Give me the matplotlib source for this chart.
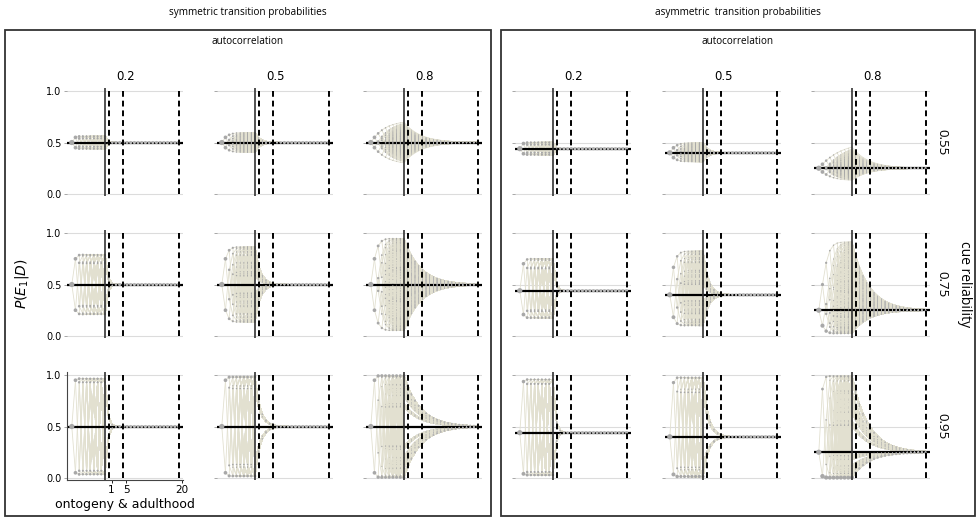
import numpy as np
import matplotlib
matplotlib.use("Agg")
import matplotlib.pyplot as plt
from matplotlib.collections import LineCollection
from matplotlib.patches import Rectangle

# ---- parameters shown on the figure ----
autocorrelations = [0.2, 0.5, 0.8]
cue_reliabilities = [0.55, 0.75, 0.95]
panel_titles = ["symmetric transition probabilities", "asymmetric  transition probabilities"]
# stationary probability of E1 for each autocorrelation level
stationary_sym = [0.5, 0.5, 0.5]
stationary_asym = [0.44, 0.40, 0.25]
n_cues = 9              # cues sampled during ontogeny
n_adult = 20            # adult time steps
adult_marks = [1, 5, 20]
y_ticks = [0.0, 0.5, 1.0]

LINE_C = "#e2e0d0"
DOT_C = "#a8a8a8"
GRID_C = "#dcdcdc"

W, H = 979, 518
fig = plt.figure(figsize=(W / 100, H / 100), dpi=100)


def fx(px):
    return px / W


def fy(py):
    return 1 - py / H


def transitions(a, pi):
    q00 = 1 - pi * (1 - a)
    q11 = a + pi * (1 - a)
    return q11, q00


def predict(p, q11, q00):
    return p * q11 + (1 - p) * (1 - q00)


def belief_tree(a, pi, r):
    q11, q00 = transitions(a, pi)
    levels = [[(pi, 1.0, None)]]
    for k in range(n_cues):
        nxt = []
        for idx, (p, w, _) in enumerate(levels[-1]):
            pr = p if k == 0 else predict(p, q11, q00)
            l1 = pr * r + (1 - pr) * (1 - r)
            nxt.append((pr * r / l1, w * l1, idx))
            l0 = 1 - l1
            nxt.append((pr * (1 - r) / l0, w * l0, idx))
        levels.append(nxt)
    return levels, q11, q00


def merged(points):
    # combine nodes that carry (nearly) the same belief
    acc = {}
    for x, p, w in points:
        key = (x, round(p, 3))
        acc[key] = acc.get(key, 0.0) + w
    xs = [k[0] for k in acc]
    ps = [k[1] for k in acc]
    ws = [acc[k] for k in acc]
    return np.array(xs), np.array(ps), np.array(ws)


def draw_cell(ax, a, pi, r):
    levels, q11, q00 = belief_tree(a, pi, r)
    x0 = -n_cues
    segs = []
    onto = []
    for k, lev in enumerate(levels):
        x = x0 + k
        for p, w, parent in lev:
            if parent is not None:
                segs.append([(x - 1, levels[k - 1][parent][0]), (x, p)])
            onto.append((x, p, w))
    adult = []
    for p, w, _ in levels[-1]:
        traj = [p]
        for t in range(n_adult):
            traj.append(predict(traj[-1], q11, q00))
        xs = np.arange(0, n_adult + 1)
        segs.append(list(zip(xs, traj)))
        adult.extend((xs[i], traj[i], w) for i in range(1, n_adult + 1))
    ax.add_collection(LineCollection(segs, colors=LINE_C, linewidths=0.6, zorder=1))
    ax.axhline(pi, color="black", lw=1.6, zorder=2)
    ox, oy, ow = merged(onto)
    ax.scatter(ox, oy, s=0.15 + 14 * ow, color=DOT_C, lw=0, zorder=3)
    dx, dy, dw = merged(adult)
    ax.scatter(dx, dy, s=0.15 + 5 * dw, color="#b4b4b4", lw=0, zorder=3)
    ax.axvline(0, color="#333333", lw=1.2, zorder=4)
    ax.vlines(adult_marks, 0, 1, colors="black", linestyles=(0, (3, 2)), lw=1.4, zorder=4)


cols_left = [67, 217, 366, 515, 665, 814]
rows_top = [88, 230, 372]
AW, AH = 116, 108

for panel in range(2):
    stat = stationary_sym if panel == 0 else stationary_asym
    for ci, a in enumerate(autocorrelations):
        for ri, r in enumerate(cue_reliabilities):
            left = cols_left[panel * 3 + ci]
            top = rows_top[ri]
            ax = fig.add_axes([fx(left), fy(top + AH), AW / W, AH / H])
            ax.set_xlim(-10.3, 21.2)
            ax.set_ylim(-0.02, 1.03)
            for yv in y_ticks:
                ax.axhline(yv, color=GRID_C, lw=0.8, zorder=0)
            draw_cell(ax, a, stat[ci], r)
            ax.set_yticks(y_ticks)
            ax.tick_params(axis="y", length=2.5, width=0.6, color="#999999",
                           labelsize=7, pad=1.5)
            for s in ax.spines.values():
                s.set_visible(False)
            if panel == 0 and ci == 0:
                ax.set_yticklabels(["%.1f" % v for v in y_ticks])
            else:
                ax.set_yticklabels([])
            if panel == 0 and ci == 0 and ri == 2:
                ax.spines["left"].set_visible(True)
                ax.spines["bottom"].set_visible(True)
                for s in ("left", "bottom"):
                    ax.spines[s].set_color("#444444")
                    ax.spines[s].set_linewidth(0.8)
                ax.set_xticks([m + 0.8 for m in adult_marks])
                ax.set_xticklabels([str(m) for m in adult_marks])
                ax.tick_params(axis="x", length=2.5, width=0.6, labelsize=7.5, pad=1)
                ax.set_xlabel("ontogeny & adulthood", fontsize=9, labelpad=2)
            else:
                ax.set_xticks([])

# panel frames and headers
for panel, (x1, x2) in enumerate([(5, 491), (501, 975)]):
    fig.patches.append(Rectangle((fx(x1), fy(516)), fx(x2) - fx(x1), fy(30) - fy(516),
                                 transform=fig.transFigure, fill=False,
                                 edgecolor="#333333", lw=1.3))
    cx = (x1 + x2) / 2
    fig.text(fx(cx), fy(13), panel_titles[panel], ha="center", va="center",
             fontsize=7.2, family="Open Sans")
    fig.text(fx(cx), fy(41), "autocorrelation", ha="center", va="center",
             fontsize=7.2, family="Open Sans")
    for ci, a in enumerate(autocorrelations):
        fig.text(fx(cols_left[panel * 3 + ci] + AW / 2 + 1), fy(76), str(a),
                 ha="center", va="center", fontsize=8.5)

for ri, r in enumerate(cue_reliabilities):
    fig.text(fx(942), fy(rows_top[ri] + 54), str(r), ha="center", va="center",
             rotation=270, fontsize=9.5, family="Open Sans")
fig.text(fx(965), fy(284), "cue reliability", ha="center", va="center",
         rotation=270, fontsize=10, family="Open Sans")
fig.text(fx(22), fy(284), r"$P(E_1|D)$", ha="center", va="center",
         rotation=90, fontsize=10)

fig.savefig("out.png", dpi=100)
